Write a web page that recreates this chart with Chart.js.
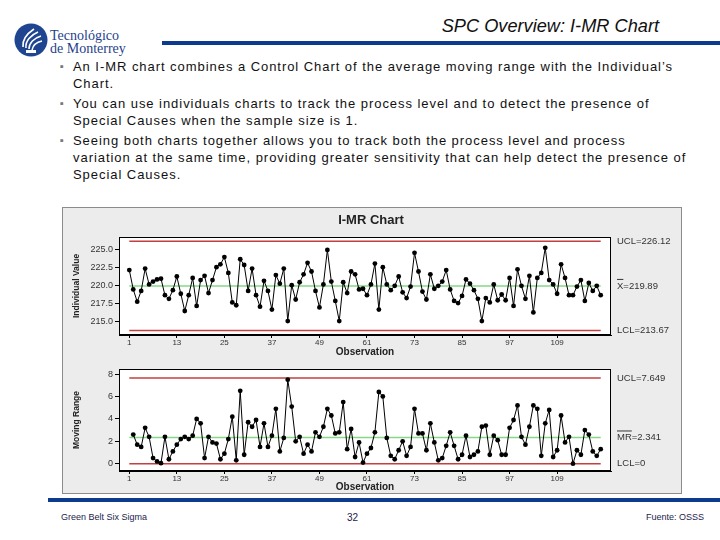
<!DOCTYPE html>
<html>
<head>
<meta charset="utf-8">
<title>SPC Overview: I-MR Chart</title>
<script src="https://cdn.jsdelivr.net/npm/chart.js@4.4.1/dist/chart.umd.min.js"></script>
<style>
  body { margin: 0; width: 720px; height: 540px; position: relative; overflow: hidden;
         background: #fff; font-family: "Liberation Sans", Arial, sans-serif; }
  .abs { position: absolute; }
  #logoText { left: 50px; top: 29px; font-family: "Liberation Serif", serif; font-size: 14px;
              line-height: 13px; color: #1f3f8c; }
  #title { right: 61px; top: 16px; font-size: 18.2px; font-style: italic; color: #111; }
  #topBar { left: 162px; top: 41px; width: 558px; height: 4px; background: #0b3a8e; }
  #bullets { left: 60px; top: 58px; font-size: 13px; line-height: 17px; color: #111;
             white-space: nowrap; letter-spacing: 0.95px; }
  #bullets .b { position: relative; padding-left: 13px; margin-bottom: 3px; }
  #bullets .b::before { content: "\25AA"; position: absolute; left: 0; top: 0; color: #777; font-size: 11px; }
  #frame { left: 62px; top: 207px; width: 620px; height: 287px; box-sizing: border-box;
           background: #ececec; border: 1px solid #8c8c8c; }
  canvas { position: absolute; left: 62px; }
  #botBar { left: 48px; top: 498px; width: 672px; height: 4px; background: #0b3a8e; }
  .foot { top: 512px; font-size: 9px; color: #1c1c4c; }
</style>
</head>
<body>

<svg class="abs" style="left:14px;top:23px" width="34" height="34" viewBox="0 0 34 34">
  <circle cx="17" cy="17" r="16.5" fill="#1f4591"/>
  <path d="M9 24 C 8 16, 14 10, 20 6" stroke="#fff" stroke-width="1.6" fill="none"/>
  <path d="M12 25 C 11 18, 17 12, 24 9" stroke="#fff" stroke-width="1.6" fill="none"/>
  <path d="M15 26 C 15 20, 20 15, 27 13" stroke="#fff" stroke-width="1.6" fill="none"/>
  <path d="M18 27 C 19 22, 23 19, 28 18" stroke="#fff" stroke-width="1.4" fill="none"/>
  <rect x="12" y="27" width="10" height="3" fill="#fff"/>
</svg>
<div id="logoText" class="abs">Tecnológico<br>de Monterrey</div>
<div id="title" class="abs">SPC Overview: I-MR Chart</div>
<div id="topBar" class="abs"></div>

<div id="bullets" class="abs">
  <div class="b">An I-MR chart combines a Control Chart of the average moving range with the Individual’s<br>Chart.</div>
  <div class="b">You can use individuals charts to track the process level and to detect the presence of<br>Special Causes when the sample size is 1.</div>
  <div class="b">Seeing both charts together allows you to track both the process level and process<br>variation at the same time, providing greater sensitivity that can help detect the presence of<br>Special Causes.</div>
</div>

<div id="frame" class="abs"></div>
<canvas id="indChart" width="620" height="151" style="top:207px"></canvas>
<canvas id="mrChart" width="620" height="137" style="top:357px"></canvas>

<div id="botBar" class="abs"></div>
<div class="abs foot" style="left:61px">Green Belt Six Sigma</div>
<div class="abs foot" style="left:347px;font-size:10px">32</div>
<div class="abs foot" style="right:16px">Fuente: OSSS</div>

<script>
// ---------------------------------------------------------------------
// Data read off the Minitab I-MR chart (120 observations)
// ---------------------------------------------------------------------
const individualValues = [
  222.1, 219.4, 217.7, 219.2, 222.3, 220.1, 220.5, 220.8, 220.9, 218.6,
  218.1, 219.3, 221.2, 218.8, 216.4, 218.6, 221.0, 217.1, 220.7, 221.3,
  218.9, 220.7, 222.5, 222.9, 223.9, 221.7, 217.6, 217.2, 223.6, 222.8,
  219.2, 222.3, 218.6, 217.0, 220.6, 219.2, 216.6, 221.4, 220.2, 222.3,
  215.0, 220.0, 218.0, 220.4, 221.5, 223.1, 221.9, 219.2, 216.9, 220.1,
  224.9, 220.5, 217.8, 215.0, 220.4, 218.9, 221.9, 221.5, 219.4, 219.5,
  218.6, 220.1, 223.0, 216.6, 222.5, 220.1, 219.3, 219.9, 221.2, 219.0,
  218.2, 219.8, 224.5, 221.9, 219.1, 218.0, 221.5, 219.5, 219.9, 220.5,
  222.1, 219.4, 217.8, 217.5, 218.5, 220.8, 220.2, 219.3, 218.1, 215.0,
  218.2, 217.6, 220.1, 217.9, 218.7, 217.9, 221.0, 217.1, 222.2, 219.9,
  218.1, 221.3, 216.2, 221.0, 221.7, 225.2, 220.7, 220.1, 218.8, 222.9,
  221.0, 218.6, 218.6, 219.8, 220.7, 217.8, 220.3, 219.2, 219.9, 218.6
];

// moving ranges start at observation 2
const movingRanges = [
  2.6, 1.7, 1.5, 3.2, 2.4, 0.5, 0.2, 0.05, 2.4,
  0.4, 1.1, 1.7, 2.2, 2.4, 2.2, 2.5, 4.0, 3.6, 0.5,
  2.4, 1.9, 1.8, 0.4, 0.9, 2.2, 4.2, 0.3, 6.5, 0.8,
  3.7, 3.3, 3.9, 1.5, 3.6, 1.5, 2.5, 4.9, 1.1, 2.3,
  7.5, 5.1, 2.0, 2.4, 0.9, 1.7, 1.1, 2.8, 2.4, 3.3,
  4.9, 4.3, 2.7, 2.8, 5.5, 1.3, 3.1, 0.6, 1.9, 0.1,
  0.9, 1.4, 2.8, 6.4, 6.0, 2.3, 0.7, 0.4, 1.2, 2.0,
  0.7, 1.5, 4.9, 2.7, 2.7, 1.2, 3.6, 1.9, 0.3, 0.5,
  1.6, 2.8, 1.6, 0.4, 0.8, 2.5, 0.6, 0.8, 1.1, 3.3,
  3.4, 0.8, 2.5, 2.1, 0.8, 0.8, 3.2, 3.9, 5.2, 2.4,
  1.7, 3.3, 5.2, 4.9, 0.7, 3.6, 4.8, 0.6, 1.2, 4.3,
  1.9, 2.4, 0.0, 1.2, 0.8, 3.0, 2.6, 1.1, 0.7, 1.3
];

const observationTicks = [1, 13, 25, 37, 49, 61, 73, 85, 97, 109];
const individualTicks = [215.0, 217.5, 220.0, 222.5, 225.0];
const rangeTicks = [0, 2, 4, 6, 8];

const IND_UCL = 226.12, IND_CL = 219.89, IND_LCL = 213.67;
const MR_UCL = 7.649, MR_CL = 2.341, MR_LCL = 0;

const RED = "#c2403f";
const GREEN = "#86d786";
const AXIS_FONT = "'Liberation Sans', Arial, sans-serif";

// ---------------------------------------------------------------------
// Plugin: white plot area, control limit lines, border, right labels
// ---------------------------------------------------------------------
const controlPlugin = {
  id: "control",
  beforeDraw(chart, args, opts) {
    const { ctx, chartArea: a } = chart;
    ctx.save();
    ctx.fillStyle = "#fff";
    ctx.fillRect(a.left, a.top, a.width, a.height);
    if (opts.title) {
      ctx.fillStyle = "#222";
      ctx.font = "bold 13px " + AXIS_FONT;
      ctx.textAlign = "center";
      ctx.textBaseline = "middle";
      ctx.fillText(opts.title, (a.left + a.right) / 2 + 6, 13);
    }
    ctx.restore();
  },
  beforeDatasetsDraw(chart, args, opts) {
    const { ctx } = chart;
    const xs = chart.scales.x, ys = chart.scales.y;
    const x0 = xs.getPixelForValue(opts.from);
    const x1 = xs.getPixelForValue(opts.to);
    ctx.save();
    opts.lines.forEach((l) => {
      const y = ys.getPixelForValue(l.value);
      ctx.strokeStyle = l.color;
      ctx.lineWidth = 1.5;
      ctx.beginPath();
      ctx.moveTo(x0, y);
      ctx.lineTo(x1, y);
      ctx.stroke();
    });
    ctx.restore();
  },
  afterDraw(chart, args, opts) {
    const { ctx, chartArea: a } = chart;
    const ys = chart.scales.y;
    ctx.save();
    ctx.strokeStyle = "#000";
    ctx.lineWidth = 1;
    ctx.strokeRect(a.left + 0.5, a.top + 0.5, a.width - 1, a.height - 1);

    ctx.font = "9.5px " + AXIS_FONT;
    ctx.fillStyle = "#333";
    ctx.textAlign = "left";
    ctx.textBaseline = "middle";
    opts.lines.forEach((l) => {
      const x = a.right + 6;
      const y = ys.getPixelForValue(l.value);
      ctx.fillText(l.label, x, y);
      if (l.over) {
        const w = ctx.measureText(l.label.slice(0, l.over)).width;
        ctx.beginPath();
        ctx.moveTo(x, y - 6.5);
        ctx.lineTo(x + w, y - 6.5);
        ctx.strokeStyle = "#333";
        ctx.stroke();
      }
    });
    ctx.restore();
  },
};

// ---------------------------------------------------------------------
// Shared chart config
// ---------------------------------------------------------------------
function makeChart(canvasId, values, firstObs, opt) {
  const points = values.map((v, i) => ({ x: i + firstObs, y: v }));
  return new Chart(document.getElementById(canvasId), {
    type: "line",
    data: {
      datasets: [{
        data: points,
        borderColor: "#000",
        borderWidth: 1,
        pointRadius: 2.4,
        pointBackgroundColor: "#000",
        pointBorderWidth: 0,
        tension: 0,
      }],
    },
    options: {
      responsive: false,
      animation: false,
      events: [],
      layout: { padding: opt.padding },
      plugins: {
        legend: { display: false },
        tooltip: { enabled: false },
        control: opt.control,
      },
      scales: {
        x: {
          type: "linear",
          min: -1.6,
          max: 122.6,
          afterBuildTicks: (s) => { s.ticks = observationTicks.map((v) => ({ value: v })); },
          afterFit: (s) => { s.height = opt.xHeight; },
          ticks: { autoSkip: false, maxRotation: 0, padding: 0, color: "#333",
                   font: { family: AXIS_FONT, size: 8 } },
          grid: { drawOnChartArea: false, drawTicks: true, tickLength: 3, color: "#000" },
          border: { display: true, color: "#000" },
          title: { display: true, text: "Observation", color: "#222", padding: { top: 0, bottom: 0 },
                   font: { family: AXIS_FONT, size: 10, weight: "bold" } },
        },
        y: {
          min: opt.yMin,
          max: opt.yMax,
          afterBuildTicks: (s) => { s.ticks = opt.yTicks.map((v) => ({ value: v })); },
          afterFit: (s) => { s.width = 57; },
          ticks: { padding: 2, color: "#333", font: { family: AXIS_FONT, size: 9 },
                   callback: opt.tickFormat },
          grid: { drawOnChartArea: false, drawTicks: true, tickLength: 4, color: "#000" },
          border: { display: true, color: "#000" },
          title: { display: true, text: opt.yTitle, color: "#222", padding: { top: 10, bottom: 0 },
                   font: { family: AXIS_FONT, size: 8.5, weight: "bold" } },
        },
      },
    },
    plugins: [controlPlugin],
  });
}

// ---------------------------------------------------------------------
// Individuals chart
// ---------------------------------------------------------------------
makeChart("indChart", individualValues, 1, {
  padding: { left: 0, right: 71, top: 30, bottom: 0 },
  xHeight: 23,
  yMin: 213.06,
  yMax: 226.7,
  yTicks: individualTicks,
  tickFormat: (v) => Number(v).toFixed(1),
  yTitle: "Individual Value",
  control: {
    title: "I-MR Chart",
    from: 1,
    to: individualValues.length,
    lines: [
      { value: IND_UCL, color: RED, label: "UCL=226.12" },
      { value: IND_CL, color: GREEN, label: "X=219.89", over: 1 },
      { value: IND_LCL, color: RED, label: "LCL=213.67" },
    ],
  },
});

// ---------------------------------------------------------------------
// Moving range chart
// ---------------------------------------------------------------------
makeChart("mrChart", movingRanges, 2, {
  padding: { left: 0, right: 71, top: 12, bottom: 1 },
  xHeight: 22,
  yMin: -0.65,
  yMax: 8.45,
  yTicks: rangeTicks,
  tickFormat: (v) => String(v),
  yTitle: "Moving Range",
  control: {
    from: 1,
    to: individualValues.length,
    lines: [
      { value: MR_UCL, color: RED, label: "UCL=7.649" },
      { value: MR_CL, color: GREEN, label: "MR=2.341", over: 2 },
      { value: MR_LCL, color: RED, label: "LCL=0" },
    ],
  },
});
</script>
</body>
</html>
